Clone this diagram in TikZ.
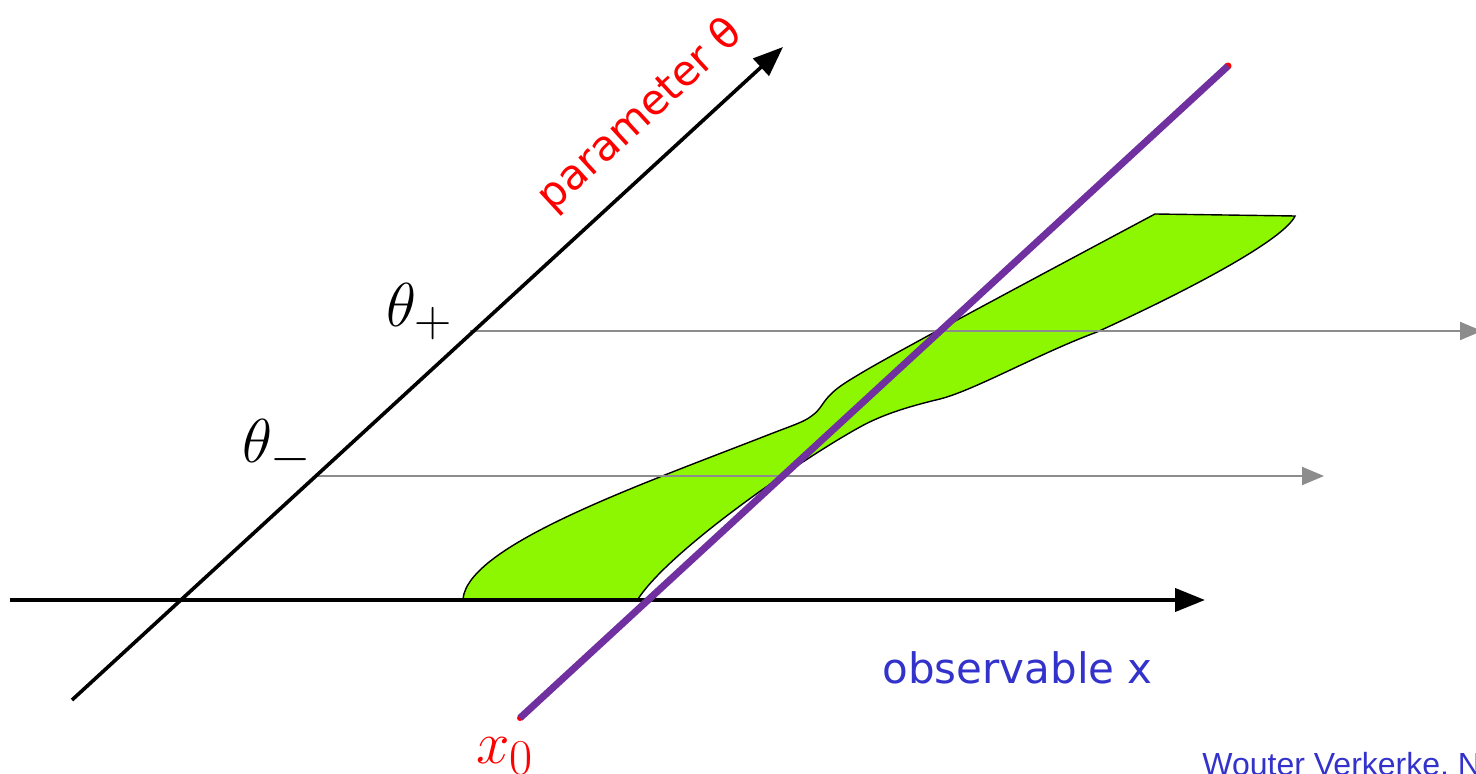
\documentclass[tikz,border=0pt]{standalone}
\usepackage{fontspec}
\newfontfamily\dejavu{DejaVu Sans}
\newfontfamily\arialf{Liberation Sans}
\usetikzlibrary{arrows.meta}
\definecolor{lime}{RGB}{140,247,0}
\definecolor{violetline}{RGB}{112,48,160}
\definecolor{bluetext}{RGB}{51,51,204}
\definecolor{grayline}{RGB}{140,140,140}
\tikzset{
  axisline/.style={line width=2pt,-{Triangle[length=15pt,width=11.5pt]}},
  guideline/.style={draw=grayline,line width=1pt,-{Triangle[length=11pt,width=9pt]}},
  region/.style={fill=lime,draw=black,line width=0.7pt},
  lbl/.style={inner sep=0pt},
  mathlbl/.style={inner sep=0pt,font=\Huge,scale=1.246},
}
\begin{document}
\begin{tikzpicture}[x=0.5pt,y=-0.5pt]
\useasboundingbox (0,0) rectangle (1476,774);
% coordinates
\coordinate (xs) at (10,600);
\coordinate (xe) at (1205,600);
\coordinate (ds) at (72,700);
\coordinate (de) at (783,47);
\coordinate (tp) at (470,331);
\coordinate (tpe) at (1482,331);
\coordinate (tm) at (315,476);
\coordinate (tme) at (1324,476);
\coordinate (pa) at (520,718);
\coordinate (pb) at (1228,66);
% green band
\filldraw[region] (463,599)
  .. controls (468,545) and (640,485) .. (773,433)
  .. controls (800,422.5) and (812,420) .. (822,405)
  .. controls (832,390) and (843,384) .. (863,372)
  .. controls (900,350) and (1050,270) .. (1155,214)
  -- (1295,216)
  .. controls (1285,238) and (1200,285) .. (1097,332)
  .. controls (1040,353) and (975,390) .. (940,399)
  .. controls (915,405) and (885,413) .. (860,427)
  .. controls (800,460) and (670,550) .. (638,599)
  -- cycle;
% gray guide lines
\draw[guideline] (tp) -- (tpe);
\draw[guideline] (tm) -- (tme);
% axes
\draw[axisline,line width=1.8pt] (ds) -- (de);
\draw[axisline] (xs) -- (xe);
% purple line
\fill[red] (pa) circle (3);
\fill[red] (pb) circle (3.5);
\draw[violetline,line width=3.5pt] (pa) -- (pb);
% labels
\node[lbl,rotate=42.6,text=red,font=\dejavu\fontsize{21}{25}\selectfont] (param) at (641,116) {parameter θ};
\node[mathlbl,anchor=base west] (thp) at (386,327) {$\theta_+$};
\node[mathlbl,anchor=base west] (thm) at (242,463) {$\theta_-$};
\node[mathlbl,anchor=base west,text=red,scale=0.97] (xz) at (476,763) {$x_0$};
\node[lbl,anchor=base west,text=bluetext,font=\dejavu\fontsize{21}{25}\selectfont] (obs) at (882,683) {observable x};
\node[lbl,anchor=base west,text=bluetext,font=\arialf\fontsize{16}{19}\selectfont] (credit) at (1202,775) {Wouter Verkerke, N};
\end{tikzpicture}
\end{document}
